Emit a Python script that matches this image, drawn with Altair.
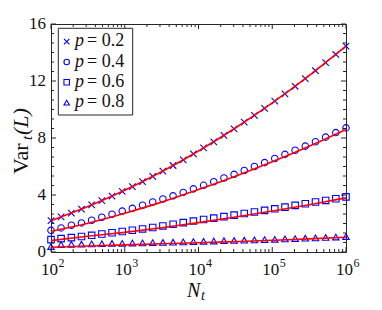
import altair as alt
import pandas as pd

# ---------------- data ----------------
Nt = [100, 137, 189, 259, 356, 489, 672, 924, 1269, 1743, 2395, 3290, 4520, 6210, 8532,
      11721, 16103, 22122, 30392, 41753, 57362, 78805, 108264, 148735, 204336, 280722,
      385662, 529832, 727895, 1000000]
p_labels = ["0.2", "0.4", "0.6", "0.8"]
var_p02 = [2.20, 2.46, 2.73, 3.01, 3.30, 3.61, 3.92, 4.25, 4.59, 4.94, 5.31, 5.68, 6.07, 6.47, 6.88,
           7.30, 7.73, 8.18, 8.64, 9.11, 9.59, 10.08, 10.59, 11.10, 11.63, 12.17, 12.72, 13.29, 13.86, 14.45]
var_p04 = [1.52, 1.69, 1.88, 2.04, 2.23, 2.44, 2.65, 2.87, 3.06, 3.28, 3.51, 3.72, 3.94, 4.18, 4.43,
           4.68, 4.93, 5.19, 5.45, 5.72, 6.00, 6.27, 6.56, 6.85, 7.14, 7.43, 7.74, 8.06, 8.38, 8.71]
var_p06 = [0.87, 0.94, 1.01, 1.09, 1.17, 1.26, 1.35, 1.44, 1.53, 1.62, 1.72, 1.83, 1.95, 2.06, 2.17,
           2.28, 2.38, 2.48, 2.59, 2.70, 2.81, 2.92, 3.03, 3.15, 3.27, 3.39, 3.51, 3.62, 3.74, 3.87]
var_p08 = [0.38, 0.52, 0.54, 0.55, 0.57, 0.58, 0.60, 0.61, 0.63, 0.64, 0.66, 0.67, 0.69, 0.71, 0.73,
           0.75, 0.77, 0.79, 0.81, 0.83, 0.85, 0.87, 0.89, 0.92, 0.94, 0.97, 0.99, 1.02, 1.05, 1.08]

fit_N = [100, 316, 1000, 3162, 10000, 31623, 100000, 316228, 1000000]
fit_p02 = [2.20, 3.19, 4.33, 5.63, 7.09, 8.70, 10.46, 12.38, 14.45]
fit_p04 = [1.45, 2.02, 2.72, 3.50, 4.38, 5.32, 6.33, 7.42, 8.60]
fit_p06 = [0.80, 1.10, 1.38, 1.70, 2.06, 2.46, 2.88, 3.32, 3.80]
fit_p08 = [0.33, 0.42, 0.50, 0.58, 0.65, 0.73, 0.82, 0.92, 1.03]

decades = [100, 1000, 10000, 100000, 1000000]
exponents = ["2", "3", "4", "5", "6"]
y_ticks = [0, 4, 8, 12, 16]

# ---------------- tables ----------------
series = [var_p02, var_p04, var_p06, var_p08]
fits = [fit_p02, fit_p04, fit_p06, fit_p08]
pts = pd.DataFrame([{"N": n, "v": v, "p": p} for p, s in zip(p_labels, series) for n, v in zip(Nt, s)])
lines = pd.DataFrame([{"N": n, "v": v, "p": p} for p, s in zip(p_labels, fits) for n, v in zip(fit_N, s)])
dec_df = pd.DataFrame({"t": decades, "e": exponents})
minor_x = pd.DataFrame({"t": [k * d for d in decades[:-1] for k in range(2, 10)]})
ymaj = pd.DataFrame({"t": y_ticks})
ymin = pd.DataFrame({"t": [i * 2 / 3 for i in range(25) if i % 6 != 0]})
one = pd.DataFrame({"a": [0]})

W, H = 295, 228
FONT = "Liberation Serif"
INK = "#262626"
TXT = "#111111"
XPATH = "M-1,-1L1,1M-1,1L1,-1"
shapes = [XPATH, "circle", "square", "triangle-up"]

xs = alt.Scale(type="log", domain=[100, 1000000])
ys = alt.Scale(domain=[0, 16], nice=False)

markers = alt.Chart(pts).mark_point(filled=False, color="#0000ff", size=42, strokeWidth=1.1, opacity=1).encode(
    x=alt.X("N:Q", scale=xs, axis=None),
    y=alt.Y("v:Q", scale=ys, axis=None),
    shape=alt.Shape("p:N", scale=alt.Scale(domain=p_labels, range=shapes), legend=None),
)
fitlines = alt.Chart(lines).mark_line(color="#ff0000", strokeWidth=1.6, interpolate="monotone").encode(
    x=alt.X("N:Q", scale=xs, axis=None),
    y=alt.Y("v:Q", scale=ys, axis=None),
    detail="p:N",
)

def xt(df, y1, y2):
    return alt.Chart(df).mark_rule(color=INK, strokeWidth=1).encode(
        x=alt.X("t:Q", scale=xs, axis=None), y=alt.value(y1), y2=alt.value(y2))

def yt(df, x1, x2):
    return alt.Chart(df).mark_rule(color=INK, strokeWidth=1).encode(
        y=alt.Y("t:Q", scale=ys, axis=None), x=alt.value(x1), x2=alt.value(x2))

ticks = [xt(dec_df, H, H - 5), xt(dec_df, 0, 5), xt(minor_x, H, H - 3), xt(minor_x, 0, 3),
         yt(ymaj, 0, 5), yt(ymaj, W, W - 5), yt(ymin, 0, 3), yt(ymin, W, W - 3)]

ten = alt.Chart(dec_df).mark_text(text="10", font=FONT, fontSize=17, align="right",
                                  baseline="alphabetic", dx=7, color=TXT).encode(
    x=alt.X("t:Q", scale=xs, axis=None), y=alt.value(251))
expo = alt.Chart(dec_df).mark_text(font=FONT, fontSize=12, align="left",
                                   baseline="alphabetic", dx=7.5, color=TXT).encode(
    x=alt.X("t:Q", scale=xs, axis=None), y=alt.value(243), text="e:N")
ylabels = alt.Chart(ymaj).mark_text(font=FONT, fontSize=17, align="right",
                                    baseline="middle", color=TXT).encode(
    y=alt.Y("t:Q", scale=ys, axis=None), x=alt.value(-5), text="t:Q")

def txt(s, x, y, size, italic=False, angle=0):
    kw = dict(font=FONT, fontSize=size, align="left", baseline="alphabetic", color=TXT)
    if italic:
        kw["fontStyle"] = "italic"
    if angle:
        kw["angle"] = angle
    return alt.Chart(one).mark_text(**kw).encode(x=alt.value(x), y=alt.value(y), text=alt.value(s))

titles = [
    txt("N", 136, 273, 20, italic=True),
    txt("t", 150, 276, 14, italic=True),
    txt("Var", -23, 150, 22, angle=270),
    txt("t", -19, 116, 15, italic=True, angle=270),
    txt("(L)", -23, 111, 22, italic=True, angle=270),
]

# legend box
legend = [alt.Chart(one).mark_rect(fill="white", stroke=INK, strokeWidth=1).encode(
    x=alt.value(7.3), x2=alt.value(81.7), y=alt.value(4.3), y2=alt.value(91))]
for i, (p, shp) in enumerate(zip(p_labels, shapes)):
    ry = 17.7 + 20.3 * i
    legend.append(alt.Chart(one).mark_point(filled=False, color="#0000ff", size=30, strokeWidth=1.1, opacity=1).encode(
        x=alt.value(15.7), y=alt.value(ry), shape=alt.value(shp)))
    legend.append(txt("p", 24, ry + 4.5, 18, italic=True))
    legend.append(txt("= " + p, 36, ry + 4.5, 18))

chart = alt.layer(markers, fitlines, *ticks, ten, expo, ylabels, *titles, *legend).properties(
    width=W, height=H,
    autosize=alt.AutoSizeParams(type="none"),
    padding={"left": 43, "top": 16, "right": 24, "bottom": 50},
    background="white",
).configure_view(stroke=INK, strokeWidth=1)

chart.save("out.html", embed_options={"renderer": "svg", "actions": False})
